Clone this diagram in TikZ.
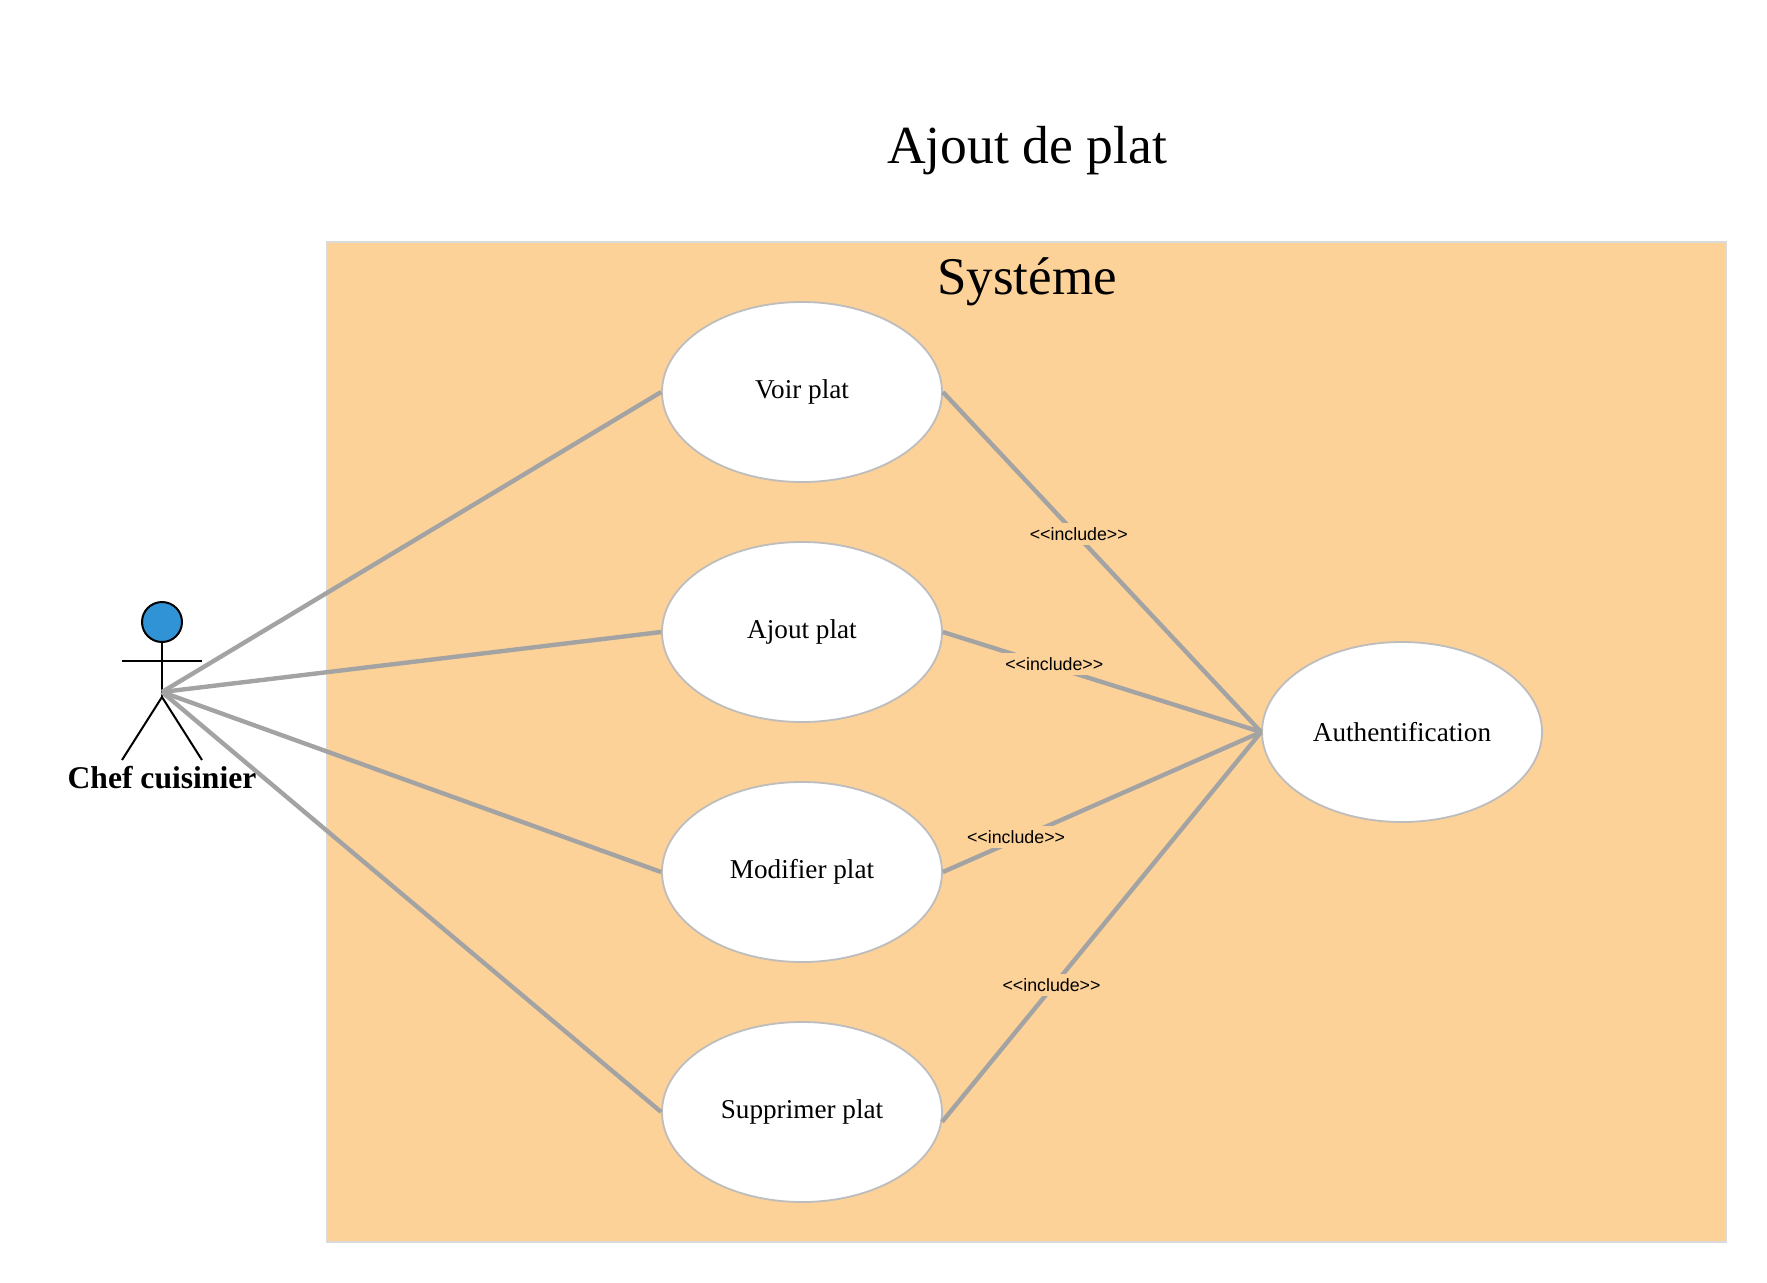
\documentclass[tikz,border=0pt]{standalone}
\usepackage{fontspec}
\setmainfont{Liberation Serif}
\newfontfamily\arialfont{Liberation Sans}
\definecolor{fondsys}{HTML}{FDD299}
\definecolor{bordsys}{HTML}{DADADA}
\definecolor{bordcas}{HTML}{BDBDBD}
\definecolor{lien}{HTML}{A3A3A3}
\definecolor{tete}{HTML}{3093D6}
\tikzset{
  cas/.style={ellipse, draw=bordcas, line width=0.9pt, fill=white, minimum width=140pt, minimum height=90pt, inner sep=0pt, font=\fontsize{13.6}{16}\selectfont},
  lienuc/.style={draw=lien, line width=2.2pt},
  inclu/.style={fill=fondsys, yshift=1.5pt, inner xsep=1pt, inner ysep=0pt, minimum height=11pt, font=\arialfont\fontsize{8.9}{10}\selectfont},
  trait/.style={draw=black, line width=1pt}
}
\usetikzlibrary{shapes.geometric}
\begin{document}
\begin{tikzpicture}[x=0.5pt, y=-0.5pt, node distance=120pt]
  \useasboundingbox (0,0) rectangle (1767,1282);

  % Titres et cadre
  \node (titre) at (1027,151) {\fontsize{26.8}{30}\selectfont Ajout de plat};
  \node[draw=bordsys, line width=0.8pt, fill=fondsys, anchor=north west, minimum width=699.5pt, minimum height=500pt, inner sep=0pt] (systeme) at (326,241) {};
  \node (nomsys) at (1027,282) {\fontsize{26.5}{30}\selectfont Systéme};

  % Acteur
  \node[circle, draw=black, line width=1pt, fill=tete, minimum size=20pt, inner sep=0pt] (tete) at (162,622) {};
  \coordinate (bassin) at (162,692);
  \coordinate (jambe) at (162,697);
  \coordinate (brasg) at (122,661);
  \coordinate (brasd) at (202,661);
  \coordinate (piedg) at (122,760);
  \coordinate (piedd) at (202,760);
  \draw[trait] (tete) -- (jambe);
  \draw[trait] (brasg) -- (brasd);
  \draw[trait] (jambe) -- (piedg);
  \draw[trait] (jambe) -- (piedd);
  \node (chef) at (162,778) {\fontsize{15.8}{18}\selectfont\bfseries Chef cuisinier};

  % Cas d'utilisation
  \node[cas] (voir) at (802,392) {Voir plat};
  \node[cas] (ajout) [below of=voir] {Ajout plat};
  \node[cas] (modifier) [below of=ajout] {Modifier plat};
  \node[cas] (supprimer) [below of=modifier] {Supprimer plat};
  \node[cas] (auth) at (1402,732) {Authentification};

  \draw[lienuc] (bassin) -- (voir.west);
  \draw[lienuc] (bassin) -- (ajout.west);
  \draw[lienuc] (bassin) -- (modifier.west);
  \draw[lienuc] (bassin) -- (supprimer.west);

  \draw[lienuc] (voir.east) -- node[inclu, pos=0.427] (inc1) {<<include>>} (auth.west);
  \draw[lienuc] (ajout.east) -- node[inclu, pos=0.35] (inc2) {<<include>>} (auth.west);
  \draw[lienuc] (modifier.east) -- node[inclu, pos=0.23] (inc3) {<<include>>} (auth.west);
  \draw[lienuc] (supprimer.-4) -- node[inclu, pos=0.343] (inc4) {<<include>>} (auth.west);
\end{tikzpicture}
\end{document}
